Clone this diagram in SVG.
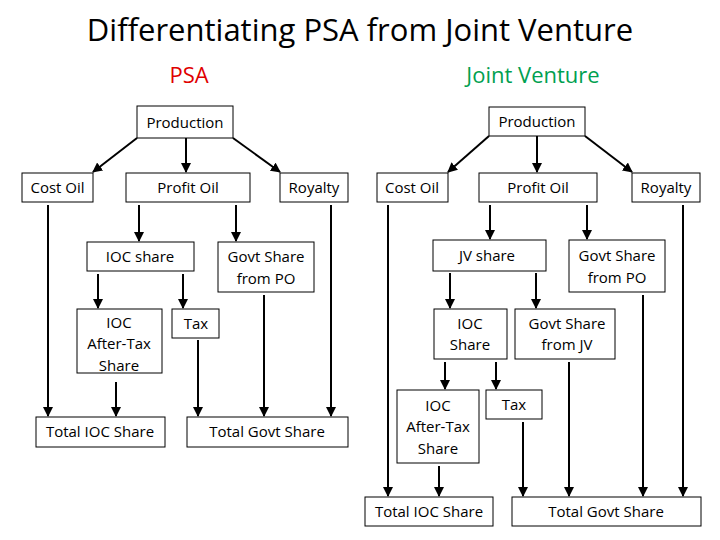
<svg xmlns="http://www.w3.org/2000/svg" width="720" height="540" viewBox="0 0 720 540">
<defs>
<marker id="a" viewBox="0 0 10 10" refX="9" refY="5" markerWidth="5" markerHeight="5" orient="auto"><path d="M0,0L10,5L0,10z" fill="#000"/></marker>
<style>
rect{fill:#fff;stroke:#000;stroke-width:1}
text{font-family:"Open Sans","Liberation Sans",sans-serif;font-size:15px;text-anchor:middle;fill:#000}
.c line{stroke:#000;stroke-width:2;marker-end:url(#a)}
</style>
</defs>
<rect x="0" y="0" width="720" height="540" style="stroke:none"/>
<text x="360" y="41" style="font-size:31px">Differentiating PSA from Joint Venture</text>
<text x="189" y="83" style="font-size:22px;fill:#e00000">PSA</text>
<text x="533" y="83" style="font-size:22px;fill:#00a050">Joint Venture</text>
<g class="c">
<line x1="137" y1="138" x2="93" y2="172"/>
<line x1="186" y1="138" x2="186" y2="172"/>
<line x1="233" y1="138" x2="280" y2="172"/>
<line x1="48" y1="205" x2="48" y2="416"/>
<line x1="139" y1="205" x2="139" y2="241"/>
<line x1="236" y1="205" x2="236" y2="241"/>
<line x1="98" y1="274" x2="98" y2="308"/>
<line x1="183" y1="274" x2="183" y2="308"/>
<line x1="116" y1="382" x2="116" y2="416"/>
<line x1="198" y1="340" x2="198" y2="416"/>
<line x1="264" y1="295" x2="264" y2="416"/>
<line x1="331" y1="205" x2="331" y2="416"/>
<line x1="489" y1="136" x2="448" y2="172"/>
<line x1="537" y1="136" x2="537" y2="172"/>
<line x1="585" y1="136" x2="632" y2="172"/>
<line x1="388" y1="205" x2="388" y2="496"/>
<line x1="490" y1="205" x2="490" y2="239"/>
<line x1="587" y1="205" x2="587" y2="239"/>
<line x1="683" y1="205" x2="683" y2="496"/>
<line x1="450" y1="273" x2="450" y2="308"/>
<line x1="536" y1="273" x2="536" y2="308"/>
<line x1="445" y1="362" x2="445" y2="389"/>
<line x1="496" y1="362" x2="496" y2="389"/>
<line x1="439" y1="466" x2="439" y2="496"/>
<line x1="523" y1="422" x2="523" y2="496"/>
<line x1="569" y1="362" x2="569" y2="496"/>
<line x1="643" y1="295" x2="643" y2="496"/>
</g>
<g id="p-prod"><rect x="137" y="106" width="96" height="32"/><text x="185" y="128">Production</text></g>
<g id="p-cost"><rect x="22" y="173" width="71" height="29"/><text x="57.5" y="193">Cost Oil</text></g>
<g id="p-profit"><rect x="126" y="173" width="124" height="29"/><text x="188" y="193">Profit Oil</text></g>
<g id="p-roy"><rect x="280" y="173" width="68" height="29"/><text x="314" y="193">Royalty</text></g>
<g id="p-iocs"><rect x="87" y="242" width="107" height="29"/><text x="140" y="262">IOC share</text></g>
<g id="p-gpo"><rect x="218" y="242" width="96" height="50"/><text x="266" y="262">Govt Share</text><text x="266" y="284">from PO</text></g>
<g id="p-iat"><rect x="77" y="309" width="85" height="64"/><text x="119" y="328">IOC</text><text x="119" y="349">After-Tax</text><text x="119" y="371">Share</text></g>
<g id="p-tax"><rect x="172" y="309" width="47" height="29"/><text x="196" y="329">Tax</text></g>
<g id="p-tioc"><rect x="36" y="417" width="129" height="30"/><text x="100" y="437">Total IOC Share</text></g>
<g id="p-tgov"><rect x="187" y="417" width="161" height="30"/><text x="267" y="437">Total Govt Share</text></g>
<g id="j-prod"><rect x="489" y="107" width="96" height="29"/><text x="537" y="127">Production</text></g>
<g id="j-cost"><rect x="377" y="173" width="71" height="29"/><text x="412" y="193">Cost Oil</text></g>
<g id="j-profit"><rect x="479" y="173" width="118" height="29"/><text x="538" y="193">Profit Oil</text></g>
<g id="j-roy"><rect x="632" y="173" width="68" height="29"/><text x="666" y="193">Royalty</text></g>
<g id="j-jvs"><rect x="433" y="240" width="113" height="31"/><text x="487" y="261">JV share</text></g>
<g id="j-gpo"><rect x="569" y="240" width="96" height="52"/><text x="617" y="261">Govt Share</text><text x="617" y="283">from PO</text></g>
<g id="j-iocs"><rect x="434" y="309" width="73" height="50"/><text x="470" y="329">IOC</text><text x="470" y="350">Share</text></g>
<g id="j-gjv"><rect x="515" y="309" width="100" height="50"/><text x="567" y="329">Govt Share</text><text x="567" y="350">from JV</text></g>
<g id="j-iat"><rect x="397" y="390" width="82" height="73"/><text x="438" y="411">IOC</text><text x="438" y="432">After-Tax</text><text x="438" y="454">Share</text></g>
<g id="j-tax"><rect x="486" y="390" width="56" height="29"/><text x="514" y="410">Tax</text></g>
<g id="j-tioc"><rect x="365" y="497" width="128" height="29"/><text x="429" y="517">Total IOC Share</text></g>
<g id="j-tgov"><rect x="512" y="497" width="189" height="29"/><text x="606" y="517">Total Govt Share</text></g>
</svg>
